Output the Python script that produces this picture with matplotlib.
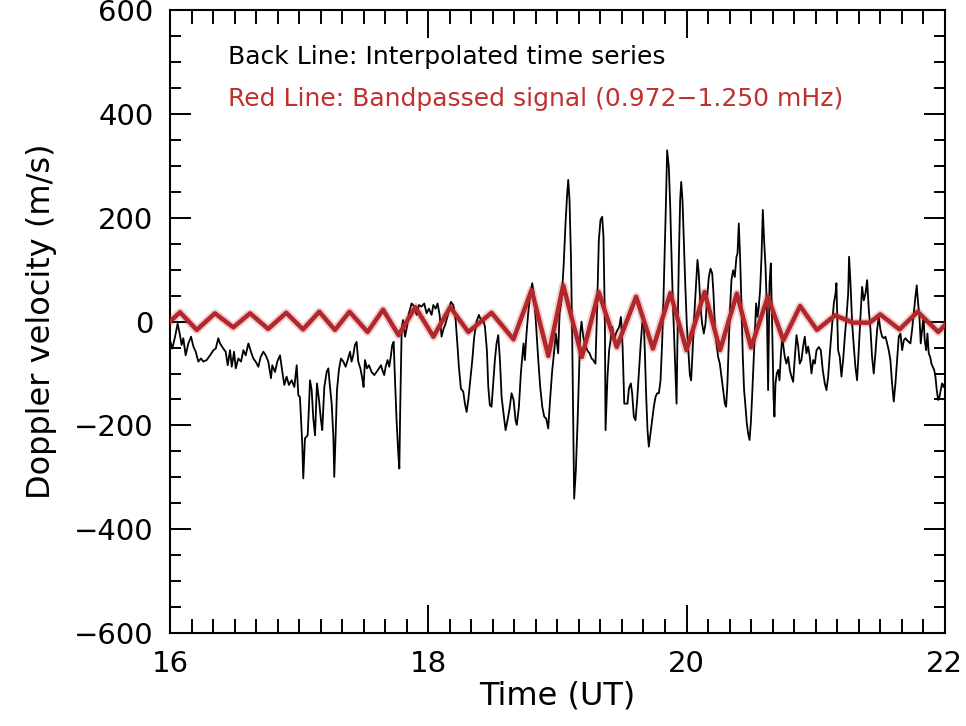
import numpy as np
import matplotlib
matplotlib.use("Agg")
import matplotlib.pyplot as plt
from matplotlib.ticker import MultipleLocator

# ---------------- black line: interpolated time series (time UT, m/s) ----------------
seg_16 = [(16.000, -36), (16.018, -52), (16.039, -29), (16.059, -4), (16.075, -23),
          (16.090, -45), (16.103, -32), (16.121, -65), (16.142, -42), (16.163, -29),
          (16.181, -48), (16.199, -58), (16.219, -77), (16.240, -71), (16.258, -77),
          (16.284, -74), (16.310, -65), (16.336, -55), (16.354, -52), (16.374, -32),
          (16.387, -42), (16.413, -52), (16.431, -58), (16.447, -84), (16.465, -55),
          (16.478, -87), (16.496, -58), (16.509, -90), (16.529, -71), (16.550, -77),
          (16.568, -55), (16.586, -65), (16.607, -42), (16.627, -58), (16.645, -71),
          (16.663, -77), (16.684, -87), (16.702, -68), (16.723, -58), (16.741, -65),
          (16.761, -77), (16.782, -109), (16.792, -84), (16.813, -97), (16.831, -77),
          (16.852, -65), (16.870, -97), (16.885, -122), (16.903, -106), (16.921, -122),
          (16.942, -113), (16.963, -126), (16.981, -84), (16.994, -142)]

seg_17 = [(17.006, -145), (17.024, -235), (17.032, -302), (17.045, -225), (17.066, -219),
          (17.076, -164), (17.084, -113), (17.097, -132), (17.110, -187), (17.123, -219),
          (17.138, -119), (17.154, -151), (17.169, -190), (17.179, -209), (17.195, -126),
          (17.213, -97), (17.226, -90), (17.239, -126), (17.252, -158), (17.265, -222),
          (17.272, -299), (17.283, -215), (17.293, -132), (17.308, -93), (17.324, -71),
          (17.342, -77), (17.360, -87), (17.376, -74), (17.394, -58), (17.406, -77),
          (17.419, -65), (17.432, -45), (17.445, -39), (17.458, -77), (17.474, -90),
          (17.489, -109), (17.499, -126), (17.510, -74), (17.525, -90), (17.541, -84),
          (17.561, -97), (17.582, -103), (17.600, -97), (17.618, -90), (17.634, -84),
          (17.644, -93), (17.659, -103), (17.670, -87), (17.685, -74), (17.698, -87),
          (17.711, -65), (17.721, -45), (17.732, -39), (17.742, -109), (17.755, -193),
          (17.768, -254), (17.776, -283), (17.783, -164), (17.794, -16), (17.804, 3),
          (17.820, -29), (17.835, -10), (17.850, 16), (17.871, 35), (17.892, 29),
          (17.910, 13), (17.928, 32), (17.948, 29), (17.969, 35), (17.987, 16),
          (18.005, 25)]

seg_18 = [(18.026, 13), (18.039, 32), (18.057, 25), (18.072, 35), (18.088, 13),
          (18.103, -29), (18.116, -16), (18.134, -4), (18.155, 16), (18.175, 38),
          (18.194, 32), (18.212, 3), (18.227, -49), (18.237, -87), (18.253, -129),
          (18.271, -135), (18.284, -158), (18.297, -174), (18.310, -151), (18.325, -113),
          (18.341, -74), (18.356, -29), (18.374, 0), (18.392, 13), (18.408, 3),
          (18.423, 6), (18.439, -10), (18.454, -55), (18.465, -126), (18.477, -161),
          (18.490, -164), (18.503, -119), (18.516, -74), (18.529, -42), (18.542, -26),
          (18.555, -74), (18.568, -145), (18.583, -177), (18.599, -209), (18.614, -190),
          (18.630, -167), (18.645, -138), (18.661, -151), (18.676, -190), (18.686, -199),
          (18.702, -164), (18.717, -100), (18.728, -68), (18.738, -42), (18.748, -74),
          (18.761, -23), (18.774, 16), (18.790, 54), (18.805, 74), (18.821, 48),
          (18.836, -10), (18.852, -74), (18.867, -126), (18.883, -164), (18.898, -183),
          (18.914, -187), (18.929, -206), (18.945, -145), (18.960, -94), (18.976, -55),
          (18.988, -23)]

seg_19 = [(19.006, -61), (19.017, 16), (19.032, 41), (19.048, 106), (19.063, 189),
          (19.076, 247), (19.084, 273), (19.094, 234), (19.105, 125), (19.115, -36),
          (19.123, -196), (19.130, -341), (19.143, -286), (19.156, -196), (19.166, -113),
          (19.177, -23), (19.187, 0), (19.200, -29), (19.213, -42), (19.231, -55),
          (19.249, -61), (19.265, -71), (19.277, -74), (19.295, -81), (19.308, 29),
          (19.321, 157), (19.334, 196), (19.347, 202), (19.357, 163), (19.368, -4),
          (19.373, -209), (19.388, -106), (19.401, -55), (19.414, -32), (19.425, -10),
          (19.440, -36), (19.453, -23), (19.466, -16), (19.479, -10), (19.492, 9),
          (19.505, -48), (19.518, -158), (19.530, -158), (19.543, -158), (19.554, -129),
          (19.569, -119), (19.579, -138), (19.592, -183), (19.605, -190), (19.618, -151),
          (19.631, -100), (19.644, -48), (19.657, -4), (19.667, 9), (19.677, -55),
          (19.688, -145), (19.698, -209), (19.708, -241), (19.721, -215), (19.734, -190),
          (19.747, -164), (19.760, -145), (19.773, -138), (19.786, -138), (19.799, -113),
          (19.812, -36), (19.822, 48), (19.832, 144), (19.840, 221), (19.850, 330),
          (19.863, 298), (19.874, 221), (19.884, 125), (19.894, 41), (19.905, -36),
          (19.915, -100), (19.923, -158), (19.930, -36), (19.941, 125), (19.951, 234),
          (19.959, 269), (19.969, 234), (19.979, 157), (19.990, 74), (20.003, -10)]

seg_20 = [(20.026, -103), (20.036, -113), (20.049, -48), (20.064, 29), (20.077, 86),
          (20.085, 119), (20.095, 93), (20.108, 29), (20.121, -4), (20.134, -23),
          (20.147, -4), (20.160, 48), (20.173, 86), (20.186, 102), (20.199, 93),
          (20.209, 54), (20.219, -4), (20.232, -42), (20.245, -68), (20.258, -81),
          (20.271, -106), (20.284, -132), (20.297, -158), (20.307, -164), (20.317, -119),
          (20.328, -36), (20.338, 29), (20.348, 80), (20.361, 99), (20.374, 86),
          (20.387, 125), (20.395, 131), (20.405, 189), (20.415, 125), (20.426, 29),
          (20.436, -68), (20.446, -132), (20.457, -164), (20.467, -196), (20.477, -215),
          (20.488, -228), (20.498, -196), (20.508, -145), (20.519, -81), (20.529, -23),
          (20.539, 35), (20.550, 9), (20.560, 29), (20.570, 61), (20.581, 125),
          (20.591, 215), (20.601, 157), (20.612, 106), (20.622, 29), (20.632, -132),
          (20.643, 74), (20.653, 112), (20.663, -4), (20.674, -145), (20.681, -183),
          (20.689, -119), (20.699, -100), (20.710, -93), (20.720, -113), (20.730, -68),
          (20.741, -29), (20.751, -48), (20.761, -68), (20.774, -81), (20.787, -68),
          (20.800, -93), (20.813, -106), (20.826, -116), (20.839, -68), (20.852, -26),
          (20.865, -48), (20.877, -81), (20.890, -74), (20.903, -48), (20.916, -29),
          (20.929, -61), (20.942, -48), (20.955, -68), (20.968, -100), (20.981, -74),
          (20.994, -81), (21.007, -55)]

seg_21 = [(21.025, -49), (21.040, -55), (21.055, -93), (21.071, -119), (21.084, -132),
          (21.097, -106), (21.112, -55), (21.128, -4), (21.141, 35), (21.154, 54),
          (21.161, 74), (21.174, -55), (21.187, -68), (21.200, -106), (21.213, -74),
          (21.226, -29), (21.239, 9), (21.252, 54), (21.259, 125), (21.270, 74),
          (21.283, -4), (21.296, -49), (21.308, -87), (21.321, -113), (21.334, -55),
          (21.347, 9), (21.360, 67), (21.373, 41), (21.386, 54), (21.399, 80),
          (21.412, 22), (21.425, -16), (21.437, -68), (21.450, -100), (21.463, -61),
          (21.476, -16), (21.489, 9), (21.502, -16), (21.515, -29), (21.528, -32),
          (21.541, -29), (21.554, -42), (21.566, -55), (21.579, -74), (21.592, -119),
          (21.605, -154), (21.618, -119), (21.631, -74), (21.644, -29), (21.657, -23),
          (21.670, -55), (21.683, -36), (21.696, -32), (21.708, -36), (21.721, -39),
          (21.734, -42), (21.747, -16), (21.760, 16), (21.773, 48), (21.783, 70),
          (21.794, 35), (21.804, 9), (21.814, -42), (21.825, -16), (21.835, 9),
          (21.845, -36), (21.856, -55), (21.866, -23), (21.876, -61), (21.887, -68),
          (21.897, -81), (21.907, -87), (21.918, -93), (21.928, -106), (21.938, -132),
          (21.949, -151), (21.959, -145), (21.969, -132), (21.979, -119), (21.990, -126),
          (22.000, -119)]

# ---------------- red line: bandpassed signal (extrema) ----------------
bp_time = [16.0, 16.077, 16.207, 16.348, 16.49, 16.62, 16.76, 16.90, 17.03, 17.156,
           17.277, 17.39, 17.53, 17.65, 17.77, 17.90, 18.04, 18.17, 18.31, 18.49,
           18.66, 18.80, 18.93, 19.045, 19.19, 19.32, 19.46, 19.61, 19.74, 19.875,
           20.0, 20.14, 20.26, 20.39, 20.50, 20.63, 20.75, 20.88, 21.01, 21.15,
           21.29, 21.42, 21.50, 21.65, 21.79, 21.95, 22.0]
bp_vel = [0, 18, -16, 16, -11, 16, -14, 17, -15, 19,
          -16, 19, -20, 23, -26, 28, -29, 28, -20, 17,
          -34, 61, -66, 70, -68, 57, -49, 48, -52, 55,
          -55, 57, -55, 54, -50, 48, -36, 30, -16, 12,
          -2, -2, 14, -15, 19, -20, -7]

black = np.array(seg_16 + seg_17 + seg_18 + seg_19 + seg_20 + seg_21, dtype=float)

# ---------------- figure ----------------
fig = plt.figure(figsize=(9.66, 7.26), dpi=100)
ax = fig.add_axes([0.176, 0.128, 0.802, 0.858])

ax.plot(black[:, 0], black[:, 1], color='black', linewidth=1.3, zorder=2)
ax.plot(bp_time, bp_vel, color='#b3262a', linewidth=6, alpha=0.22, zorder=3,
        solid_joinstyle='round')
ax.plot(bp_time, bp_vel, color='#b3262a', linewidth=3.2, zorder=4,
        solid_joinstyle='round')

ax.set_xlim(16, 22)
ax.set_ylim(-600, 600)
ax.xaxis.set_major_locator(MultipleLocator(2))
ax.xaxis.set_minor_locator(MultipleLocator(1 / 6))
ax.yaxis.set_major_locator(MultipleLocator(200))
ax.yaxis.set_minor_locator(MultipleLocator(50))
ax.tick_params(which='both', direction='in', top=True, right=True, width=1.4,
               labelsize=21)
ax.tick_params(axis='x', which='major', length=20, pad=12)
ax.tick_params(axis='x', which='minor', length=10)
ax.tick_params(axis='y', which='major', length=15, pad=12)
ax.tick_params(axis='y', which='minor', length=8)
for s in ax.spines.values():
    s.set_linewidth(1.5)

ax.set_yticks([-600, -400, -200, 0, 200, 400, 600])
ax.set_yticklabels(['\u2212600', '\u2212400', '\u2212200', '0', '200', '400', '600'])

ax.set_xlabel('Time (UT)', fontsize=23, labelpad=2)
ax.set_ylabel('Doppler velocity (m/s)', fontsize=23, labelpad=12)

ax.text(0.075, 0.925, 'Back Line: Interpolated time series', transform=ax.transAxes,
        fontsize=18, color='black', va='center', ha='left')
ax.text(0.075, 0.857, 'Red Line: Bandpassed signal (0.972\u22121.250 mHz)',
        transform=ax.transAxes, fontsize=18, color='#c0302f', va='center', ha='left')

fig.savefig('out.png', dpi=100)
